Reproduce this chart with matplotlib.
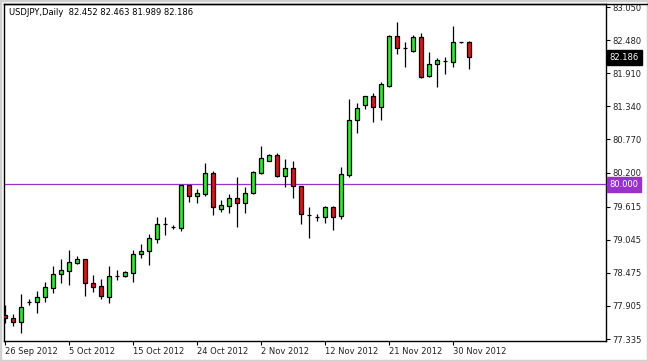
import matplotlib.pyplot as plt
import numpy as np
import pandas as pd
from matplotlib.patches import Rectangle
from matplotlib.lines import Line2D

# daily bars (MT4 broker also prints the short Sunday session), 26 Sep - 3 Dec 2012
days = pd.date_range('2012-09-26', '2012-12-03')
dates = [d for d in days if d.dayofweek != 5]

opens = [77.749, 77.697, 77.628, 77.972, 77.972, 78.059, 78.213, 78.454, 78.506, 78.644,
         78.713, 78.299, 78.248, 78.059, 78.420, 78.420, 78.472, 78.799, 78.850, 79.057,
         79.315, 79.263, 79.246, 79.986, 79.797, 79.831, 80.193, 79.573, 79.625, 79.763,
         79.676, 79.849, 80.193, 80.399, 80.503, 80.141, 80.279, 79.969, 79.470, 79.435,
         79.435, 79.608, 79.453, 80.158, 81.105, 81.363, 81.518, 81.329, 81.690, 82.551,
         82.344, 82.293, 82.534, 81.862, 82.069, 82.121, 82.103, 82.440, 82.452]
highs = [77.921, 77.766, 78.110, 78.024, 78.162, 78.317, 78.592, 78.713, 78.867, 78.764,
         78.720, 78.437, 78.368, 78.592, 78.523, 78.506, 78.867, 78.971, 79.143, 79.435,
         79.435, 79.298, 79.990, 79.990, 79.917, 80.365, 80.227, 79.728, 79.831, 80.124,
         79.952, 80.227, 80.658, 80.520, 80.537, 80.434, 80.399, 79.975, 79.608, 79.487,
         79.625, 79.625, 80.296, 81.466, 81.398, 81.520, 81.570, 81.759, 82.568, 82.792,
         82.448, 82.568, 82.602, 82.275, 82.172, 82.189, 82.723, 82.452, 82.463]
lows = [77.611, 77.559, 77.439, 77.921, 77.783, 77.972, 78.127, 78.299, 78.265, 78.627,
        78.076, 78.145, 78.024, 77.955, 78.351, 78.403, 78.317, 78.730, 78.609, 78.988,
        79.126, 79.229, 79.195, 79.694, 79.676, 79.797, 79.470, 79.522, 79.504, 79.263,
        79.504, 79.831, 80.176, 80.399, 80.124, 79.952, 79.763, 79.315, 79.074, 79.367,
        79.332, 79.212, 79.401, 80.124, 80.881, 81.294, 81.071, 81.105, 81.673, 82.241,
        82.017, 82.275, 81.828, 81.845, 81.673, 81.897, 82.017, 82.435, 81.989]
closes = [77.697, 77.628, 77.886, 77.975, 78.059, 78.231, 78.454, 78.523, 78.661, 78.713,
          78.299, 78.231, 78.076, 78.420, 78.425, 78.489, 78.799, 78.850, 79.074, 79.315,
          79.318, 79.270, 79.986, 79.797, 79.849, 80.193, 79.608, 79.642, 79.763, 79.676,
          79.849, 80.210, 80.451, 80.503, 80.141, 80.279, 79.969, 79.487, 79.465, 79.438,
          79.608, 79.435, 80.176, 81.105, 81.312, 81.518, 81.329, 81.725, 82.551, 82.344,
          82.340, 82.534, 81.845, 82.069, 82.138, 82.125, 82.448, 82.445, 82.186]

price_ticks = [83.050, 82.480, 81.910, 81.340, 80.770, 80.200, 79.615, 79.045, 78.475, 77.905, 77.335]
level = 80.000
title = 'USDJPY,Daily  82.452 82.463 81.989 82.186'

W, H = 648, 361
fig = plt.figure(figsize=(W / 100, H / 100), dpi=100, facecolor='white')
# plot frame: x 3.5..605.5 px, y 4..341 px
ax = fig.add_axes([3.5 / W, (H - 341) / H, 602 / W, 337 / H])

x = np.arange(len(dates))
o = np.array(opens)
c = np.array(closes)
up = c >= o
colors = np.where(up, '#3ade3a', '#c81e1e')

ax.vlines(x, lows, highs, color='black', lw=0.9, zorder=2)
ax.bar(x, c - o, bottom=o, width=0.6, color=colors, edgecolor='black', lw=0.9, zorder=3)

ax.axhline(level, color='#9932cc', lw=0.9, zorder=1)

ax.set_xlim(-0.1875, 75.06)
ax.set_ylim(77.301, 83.102)

# x ticks every 8 bars, labels start at the tick
ax.set_xticks(x[::8])
ax.set_xticklabels([f"{d.day} {d.strftime('%b')} {d.year}" for d in dates[::8]],
                   ha='left', fontsize=6, color='#222222')
ax.tick_params(axis='x', length=3, width=0.8, pad=1.5)

ax.yaxis.tick_right()
ax.set_yticks(price_ticks)
ax.set_yticklabels([f'{p:.3f}' for p in price_ticks], fontsize=6, color='#222222')
ax.tick_params(axis='y', length=3, width=0.8, pad=2)

for s in ax.spines.values():
    s.set_linewidth(1.0)
    s.set_color('black')

# current price and level tags on the price scale
ax.annotate(f'{closes[-1]:.3f}', xy=(1, closes[-1]), xycoords=('axes fraction', 'data'),
            xytext=(4, 0), textcoords='offset pixels', va='center', ha='left',
            fontsize=6, color='white',
            bbox=dict(boxstyle='square,pad=0.35', fc='black', ec='black'))
ax.annotate(f'{level:.3f}', xy=(1, level), xycoords=('axes fraction', 'data'),
            xytext=(4, 0), textcoords='offset pixels', va='center', ha='left',
            fontsize=6, color='white',
            bbox=dict(boxstyle='square,pad=0.35', fc='#9932cc', ec='#9932cc'))

fig.text(9 / W, 1 - 12.5 / H, title, fontsize=6, va='center', ha='left', color='black')

# window border
fig.patches.append(Rectangle((0, 0), 1, 1, transform=fig.transFigure, fill=False,
                             ec='#d0d0d0', lw=2.5))
fig.lines.append(Line2D([3.5 / W, 1], [1 - 3.5 / H, 1 - 3.5 / H], transform=fig.transFigure,
                        color='black', lw=1.0))

fig.savefig('out.png', dpi=100, facecolor='white')
